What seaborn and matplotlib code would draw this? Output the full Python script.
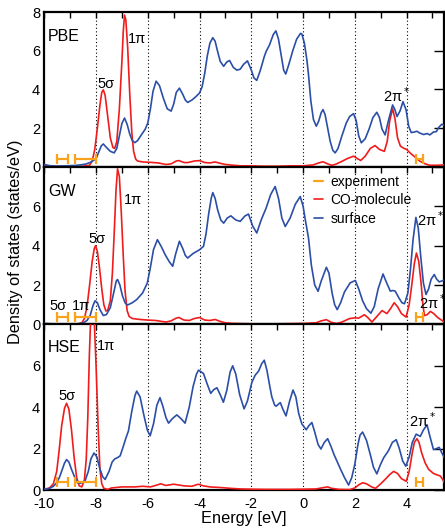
import numpy as np
import pandas as pd
import matplotlib
matplotlib.use('Agg')
import matplotlib.pyplot as plt
import seaborn as sns
from matplotlib.lines import Line2D

# --- данные (энергия в эВ, плотность состояний) ---
pbe_surface = [(-10.0,0.12),(-9.8,0.06),(-9.6,0.04),(-9.4,0.04),(-9.2,0.05),(-9.0,0.06),(-8.8,0.07),(-8.6,0.1),(-8.4,0.14),(-8.2,0.24),(-8.0,0.42),(-7.9,0.75),(-7.8,1.08),(-7.72,1.18),(-7.6,1.0),(-7.45,0.8),(-7.3,0.72),(-7.2,0.95),(-7.1,1.6),(-7.0,2.25),(-6.9,2.52),(-6.8,2.2),(-6.7,1.7),(-6.6,1.35),(-6.5,1.25),(-6.4,1.35),(-6.3,1.55),(-6.2,1.75),(-6.1,1.95),(-6.0,2.27),(-5.9,3.0),(-5.8,3.9),(-5.68,4.43),(-5.55,4.2),(-5.4,3.55),(-5.25,3.0),(-5.1,2.88),(-5.0,3.25),(-4.9,3.85),(-4.78,4.07),(-4.65,3.75),(-4.55,3.45),(-4.46,3.33),(-4.3,3.45),(-4.15,3.62),(-4.0,3.82),(-3.9,4.15),(-3.8,4.85),(-3.7,5.75),(-3.6,6.4),(-3.49,6.68),(-3.4,6.5),(-3.3,5.95),(-3.2,5.45),(-3.07,5.2),(-2.95,5.42),(-2.84,5.5),(-2.7,5.15),(-2.56,5.0),(-2.43,5.05),(-2.3,5.3),(-2.15,5.48),(-2.0,5.0),(-1.9,4.6),(-1.79,4.47),(-1.65,5.0),(-1.5,5.7),(-1.43,5.96),(-1.3,6.3),(-1.15,6.85),(-1.05,7.03),(-0.95,6.6),(-0.85,5.8),(-0.75,5.0),(-0.67,4.8),(-0.55,5.3),(-0.4,6.0),(-0.25,6.6),(-0.1,6.9),(-0.05,6.88),(0.05,6.4),(0.15,5.5),(0.21,4.76),(0.3,3.4),(0.4,2.45),(0.51,2.1),(0.6,2.35),(0.7,2.8),(0.77,2.96),(0.85,2.7),(0.95,2.0),(1.05,1.3),(1.15,0.85),(1.24,0.72),(1.35,0.95),(1.5,1.6),(1.67,2.27),(1.8,2.6),(1.95,2.75),(2.05,2.4),(2.15,1.6),(2.25,1.24),(2.4,1.45),(2.55,1.95),(2.7,2.55),(2.85,2.82),(2.95,2.55),(3.05,1.95),(3.17,1.65),(3.3,2.4),(3.46,3.2),(3.55,2.95),(3.63,2.6),(3.75,2.9),(3.86,3.37),(3.98,2.95),(4.08,2.1),(4.18,1.77),(4.3,1.8),(4.4,1.84),(4.5,1.75),(4.66,1.67),(4.8,1.72),(4.9,1.65),(5.04,1.8),(5.15,1.82),(5.25,2.05),(5.36,2.2),(5.45,2.15)]

pbe_co = [(-10.0,0.1),(-9.9,0.04),(-9.5,0.02),(-9.0,0.02),(-8.5,0.03),(-8.25,0.08),(-8.15,0.3),(-8.05,0.9),(-7.95,2.0),(-7.85,3.2),(-7.78,3.85),(-7.72,3.98),(-7.65,3.7),(-7.55,2.6),(-7.45,1.5),(-7.35,1.0),(-7.28,0.95),(-7.2,1.3),(-7.1,3.0),(-7.0,5.5),(-6.95,7.0),(-6.9,7.85),(-6.85,7.6),(-6.78,6.2),(-6.7,3.8),(-6.62,1.8),(-6.55,0.8),(-6.47,0.4),(-6.4,0.3),(-6.2,0.25),(-5.9,0.23),(-5.6,0.2),(-5.3,0.12),(-5.1,0.15),(-4.9,0.3),(-4.8,0.32),(-4.6,0.22),(-4.45,0.22),(-4.2,0.3),(-4.0,0.32),(-3.8,0.22),(-3.6,0.2),(-3.4,0.25),(-3.2,0.18),(-3.0,0.12),(-2.7,0.08),(-2.4,0.05),(-2.0,0.05),(-1.5,0.03),(-1.0,0.03),(-0.5,0.05),(0.0,0.05),(0.4,0.1),(0.6,0.2),(0.77,0.26),(0.95,0.15),(1.1,0.08),(1.24,0.12),(1.5,0.28),(1.7,0.42),(1.95,0.55),(2.1,0.42),(2.23,0.33),(2.4,0.55),(2.6,0.95),(2.78,1.1),(2.95,0.9),(3.14,0.8),(3.25,1.3),(3.35,2.4),(3.46,3.0),(3.55,2.5),(3.65,1.5),(3.76,1.07),(3.9,0.95),(4.0,0.9),(4.15,0.7),(4.33,0.5),(4.5,0.3),(4.72,0.15),(4.9,0.08),(5.2,0.08),(5.45,0.1)]

gw_surface = [(-10.0,0.05),(-9.7,0.03),(-9.4,0.02),(-9.0,0.02),(-8.7,0.03),(-8.49,0.08),(-8.35,0.2),(-8.23,0.45),(-8.12,0.95),(-8.04,1.2),(-7.95,1.1),(-7.85,0.75),(-7.72,0.45),(-7.6,0.5),(-7.45,0.85),(-7.32,1.6),(-7.22,2.2),(-7.17,2.28),(-7.08,2.0),(-6.98,1.45),(-6.88,1.1),(-6.79,0.98),(-6.6,1.1),(-6.43,1.26),(-6.2,1.6),(-6.02,2.1),(-5.9,2.9),(-5.78,3.8),(-5.63,4.3),(-5.48,3.95),(-5.33,3.54),(-5.18,3.2),(-5.04,2.95),(-4.92,3.6),(-4.78,4.22),(-4.65,3.85),(-4.55,3.5),(-4.46,3.37),(-4.25,3.6),(-4.0,3.79),(-3.85,3.96),(-3.75,4.6),(-3.65,5.6),(-3.55,6.4),(-3.49,6.69),(-3.4,6.4),(-3.3,5.8),(-3.18,5.3),(-3.07,5.14),(-2.93,5.4),(-2.79,5.51),(-2.6,5.3),(-2.43,5.23),(-2.25,5.5),(-2.11,5.6),(-1.95,5.0),(-1.79,4.64),(-1.62,5.3),(-1.43,5.9),(-1.25,6.6),(-1.08,7.0),(-0.95,6.4),(-0.82,5.4),(-0.69,4.97),(-0.5,5.4),(-0.3,6.1),(-0.11,6.49),(0.0,6.0),(0.1,5.2),(0.21,4.38),(0.32,3.0),(0.45,2.0),(0.58,1.68),(0.7,2.2),(0.9,2.9),(1.0,2.6),(1.12,1.6),(1.22,1.0),(1.32,0.75),(1.45,1.1),(1.6,1.65),(1.82,2.11),(2.02,2.23),(2.15,1.8),(2.3,1.2),(2.45,0.8),(2.62,0.57),(2.75,0.9),(2.9,1.8),(3.09,2.56),(3.2,2.2),(3.37,1.69),(3.47,1.72),(3.56,1.69),(3.7,1.35),(3.82,1.1),(3.92,1.05),(4.05,1.6),(4.15,2.8),(4.25,4.3),(4.36,5.43),(4.45,4.9),(4.55,3.4),(4.65,2.1),(4.75,1.52),(4.85,1.8),(4.95,2.3),(5.07,2.53),(5.16,2.3),(5.26,2.16),(5.35,2.2),(5.45,2.25)]

gw_co = [(-10.0,0.02),(-9.0,0.02),(-8.7,0.03),(-8.55,0.08),(-8.45,0.3),(-8.35,0.9),(-8.25,2.0),(-8.15,3.2),(-8.07,3.85),(-8.02,4.0),(-7.95,3.7),(-7.87,2.9),(-7.78,1.8),(-7.7,1.0),(-7.62,0.68),(-7.55,0.72),(-7.45,1.2),(-7.37,2.6),(-7.3,4.6),(-7.23,6.8),(-7.17,7.9),(-7.1,7.5),(-7.03,5.8),(-6.95,3.5),(-6.88,1.7),(-6.8,0.7),(-6.72,0.4),(-6.6,0.3),(-6.3,0.25),(-6.0,0.22),(-5.7,0.2),(-5.3,0.12),(-5.1,0.18),(-4.9,0.32),(-4.8,0.35),(-4.6,0.22),(-4.4,0.2),(-4.2,0.3),(-4.0,0.35),(-3.8,0.22),(-3.6,0.2),(-3.4,0.25),(-3.2,0.15),(-3.0,0.08),(-2.7,0.05),(-2.0,0.03),(-1.0,0.03),(0.0,0.05),(0.5,0.08),(0.7,0.18),(0.9,0.24),(1.1,0.1),(1.3,0.05),(1.5,0.12),(1.8,0.3),(2.0,0.33),(2.15,0.32),(2.37,0.49),(2.5,0.35),(2.66,0.12),(2.85,0.4),(3.05,0.7),(3.24,0.55),(3.38,0.8),(3.52,1.1),(3.65,0.9),(3.8,0.55),(3.98,0.37),(4.1,1.0),(4.2,2.0),(4.3,3.1),(4.38,3.62),(4.47,3.2),(4.56,2.1),(4.63,1.0),(4.69,0.45),(4.8,0.5),(4.92,0.66),(5.05,0.55),(5.2,0.35),(5.37,0.2),(5.45,0.12)]

hse_surface = [(-10.0,0.03),(-9.8,0.08),(-9.65,0.18),(-9.52,0.35),(-9.42,0.6),(-9.33,0.91),(-9.22,1.3),(-9.14,1.47),(-9.05,1.35),(-8.95,1.0),(-8.82,0.6),(-8.72,0.35),(-8.6,0.33),(-8.43,0.43),(-8.3,0.9),(-8.2,1.5),(-8.08,1.79),(-7.97,1.6),(-7.87,1.1),(-7.75,0.65),(-7.65,0.51),(-7.5,0.9),(-7.38,1.35),(-7.28,1.5),(-7.15,1.58),(-7.07,1.65),(-6.95,2.1),(-6.85,2.5),(-6.75,2.85),(-6.62,3.8),(-6.5,4.55),(-6.43,4.78),(-6.3,4.5),(-6.15,3.6),(-6.02,2.9),(-5.91,2.62),(-5.78,3.2),(-5.65,4.1),(-5.53,4.46),(-5.42,4.05),(-5.3,3.5),(-5.2,3.23),(-5.05,3.45),(-4.88,3.63),(-4.72,3.45),(-4.56,3.23),(-4.4,4.0),(-4.25,5.0),(-4.12,5.6),(-4.04,5.79),(-3.85,5.63),(-3.7,5.1),(-3.57,4.67),(-3.45,4.85),(-3.33,4.94),(-3.2,4.6),(-3.08,4.24),(-2.95,4.8),(-2.82,5.7),(-2.72,6.0),(-2.6,5.6),(-2.45,4.6),(-2.28,3.92),(-2.15,4.3),(-1.98,5.2),(-1.85,5.55),(-1.72,5.74),(-1.6,6.1),(-1.5,6.27),(-1.4,5.8),(-1.3,5.1),(-1.21,4.51),(-1.1,4.1),(-1.04,4.05),(-0.95,4.15),(-0.88,4.22),(-0.78,3.9),(-0.66,3.58),(-0.52,4.3),(-0.39,4.83),(-0.28,4.5),(-0.17,3.7),(-0.05,3.2),(0.12,2.91),(0.22,3.1),(0.34,3.26),(0.45,2.8),(0.58,2.2),(0.69,1.98),(0.82,2.3),(0.95,2.48),(1.08,2.1),(1.2,1.7),(1.31,1.39),(1.45,1.0),(1.6,0.6),(1.76,0.24),(1.88,0.6),(2.0,1.25),(2.12,2.2),(2.2,2.65),(2.3,2.8),(2.45,2.4),(2.6,1.7),(2.72,1.1),(2.85,0.78),(2.98,1.2),(3.11,1.55),(3.3,1.9),(3.45,2.3),(3.6,2.43),(3.72,2.0),(3.85,1.4),(3.97,1.15),(4.1,1.6),(4.22,2.3),(4.37,2.7),(4.53,2.59),(4.65,2.9),(4.79,3.15),(4.9,2.6),(5.04,1.95),(5.15,2.0),(5.26,2.06),(5.36,1.8),(5.46,1.55)]

hse_co = [(-10.0,0.03),(-9.8,0.1),(-9.65,0.3),(-9.52,0.9),(-9.42,2.0),(-9.33,3.1),(-9.22,3.95),(-9.14,4.19),(-9.05,3.9),(-8.95,2.9),(-8.85,1.6),(-8.75,0.6),(-8.65,0.2),(-8.55,0.15),(-8.45,0.5),(-8.38,1.5),(-8.32,3.5),(-8.26,6.5),(-8.2,8.6),(-8.14,9.2),(-8.08,8.5),(-8.0,6.0),(-7.92,3.0),(-7.85,1.0),(-7.78,0.3),(-7.7,0.08),(-7.55,0.03),(-7.4,0.1),(-7.0,0.15),(-6.5,0.15),(-6.2,0.18),(-5.9,0.15),(-5.7,0.22),(-5.5,0.3),(-5.3,0.22),(-5.0,0.28),(-4.85,0.25),(-4.6,0.2),(-4.3,0.18),(-4.05,0.28),(-3.85,0.2),(-3.6,0.15),(-3.2,0.12),(-2.8,0.08),(-2.4,0.05),(-1.5,0.03),(-0.5,0.03),(0.5,0.05),(0.8,0.12),(0.95,0.15),(1.1,0.08),(1.4,0.03),(1.8,0.02),(2.0,0.1),(2.15,0.25),(2.3,0.35),(2.45,0.3),(2.65,0.15),(2.8,0.08),(3.0,0.3),(3.2,0.55),(3.35,0.75),(3.5,0.9),(3.65,0.8),(3.8,0.55),(3.99,0.42),(4.1,0.9),(4.22,1.8),(4.3,2.3),(4.4,2.48),(4.48,2.3),(4.58,1.8),(4.72,1.3),(4.85,1.0),(5.04,0.8),(5.2,0.72),(5.3,0.68),(5.4,0.5),(5.46,0.35)]

methods = ['PBE', 'GW', 'HSE']
curves = {'PBE': (pbe_co, pbe_surface), 'GW': (gw_co, gw_surface), 'HSE': (hse_co, hse_surface)}

# эксперимент: центр и полуширина
exp_center = [-9.3, -8.4, 4.51]
exp_err = [0.22, 0.4, 0.13]
exp_level = 0.4

rows = []
for m in methods:
    co, surf = curves[m]
    for e, d in co:
        rows.append((m, 'CO-molecule', e, d))
    for e, d in surf:
        rows.append((m, 'surface', e, d))
df = pd.DataFrame(rows, columns=['method', 'kind', 'energy', 'dos'])

sns.set_theme(style='white')
plt.rcParams['font.family'] = ['Liberation Sans', 'DejaVu Sans']
plt.rcParams['axes.unicode_minus'] = False
plt.rcParams['text.color'] = 'black'
plt.rcParams['axes.labelcolor'] = 'black'
plt.rcParams['xtick.color'] = 'black'
plt.rcParams['ytick.color'] = 'black'

red = '#f01c1c'
blue = '#2b4ea6'
orange = '#f9a21b'
palette = {'CO-molecule': red, 'surface': blue}

fig, axes = plt.subplots(3, 1, figsize=(4.45, 5.29), dpi=100, sharex=True,
                         gridspec_kw=dict(height_ratios=[155, 158, 166], hspace=0))
fig.subplots_adjust(left=0.0996, right=0.998, top=0.977, bottom=0.0737)

for ax, m in zip(axes, methods):
    sub = df[df['method'] == m]
    sns.lineplot(data=sub, x='energy', y='dos', hue='kind', palette=palette,
                 sort=False, estimator=None, legend=False, lw=1.2, ax=ax, zorder=3)
    for xv in range(-8, 5, 2):
        ax.axvline(xv, color='black', ls=(0, (1, 2.2)), lw=0.8, zorder=1)
    ax.errorbar(exp_center, [exp_level] * 3, xerr=exp_err, fmt='none',
                ecolor=orange, elinewidth=1.6, capsize=3.5, capthick=1.6, zorder=4)
    ax.set_xlim(-10, 5.45)
    ax.set_ylim(0, 8)
    ax.set_xlabel('')
    ax.set_ylabel('')
    ax.set_xticks(range(-10, 6, 2))
    ax.set_xticks(range(-9, 6, 2), minor=True)
    ax.set_yticks([0, 2, 4, 6, 8])
    ax.tick_params(axis='both', which='both', direction='in', top=True, right=True,
                   labelsize=10.5, width=1.0, color='black', labelcolor='black')
    ax.tick_params(axis='x', which='both', length=4, pad=5)
    ax.tick_params(axis='y', which='major', length=7, pad=3)
    for s in ax.spines.values():
        s.set_linewidth(1.6)
        s.set_color('black')
    ax.text(-9.86, 6.75 if m != 'HSE' else 6.9, m, fontsize=11.5, ha='left', va='center')

axes[1].set_yticklabels(['0', '2', '4', '6', ''])
axes[2].set_yticklabels(['0', '2', '4', '6', ''])

fs = 10.5
# PBE
axes[0].text(-7.63, 4.07, '5σ', fontsize=fs, ha='center', va='baseline')
axes[0].text(-6.79, 6.43, '1π', fontsize=fs, ha='left', va='baseline')
axes[0].text(3.09, 3.35, '2π$^*$', fontsize=fs, ha='left', va='baseline')
# GW
axes[1].text(-7.97, 4.13, '5σ', fontsize=fs, ha='center', va='baseline')
axes[1].text(-6.94, 6.1, '1π', fontsize=fs, ha='left', va='baseline')
axes[1].text(-9.8, 0.72, '5σ', fontsize=fs, ha='left', va='baseline')
axes[1].text(-8.92, 0.72, '1π', fontsize=fs, ha='left', va='baseline')
axes[1].text(4.42, 4.97, '2π$^*$', fontsize=fs, ha='left', va='baseline')
axes[1].text(4.48, 0.76, '2π$^*$', fontsize=fs, ha='left', va='baseline')
# HSE
axes[2].text(-9.12, 4.36, '5σ', fontsize=fs, ha='center', va='baseline')
axes[2].text(-7.95, 6.76, '1π', fontsize=fs, ha='left', va='baseline')
axes[2].text(4.08, 3.03, '2π$^*$', fontsize=fs, ha='left', va='baseline')

handles = [Line2D([], [], color=orange, lw=1.6),
           Line2D([], [], color=red, lw=1.2),
           Line2D([], [], color=blue, lw=1.2)]
axes[1].legend(handles, ['experiment', 'CO-molecule', 'surface'], loc='upper left',
               bbox_to_anchor=(0.66, 0.985), frameon=False, fontsize=10,
               handlelength=0.7, handletextpad=0.5, labelspacing=0.32, borderaxespad=0)

fig.text(0.034, 0.542, 'Density of states (states/eV)', rotation=90, fontsize=11.8,
         ha='center', va='center')
fig.text(0.548, 0.0113, 'Energy [eV]', fontsize=11.8, ha='center', va='baseline')

plt.savefig('out.png', dpi=100)
